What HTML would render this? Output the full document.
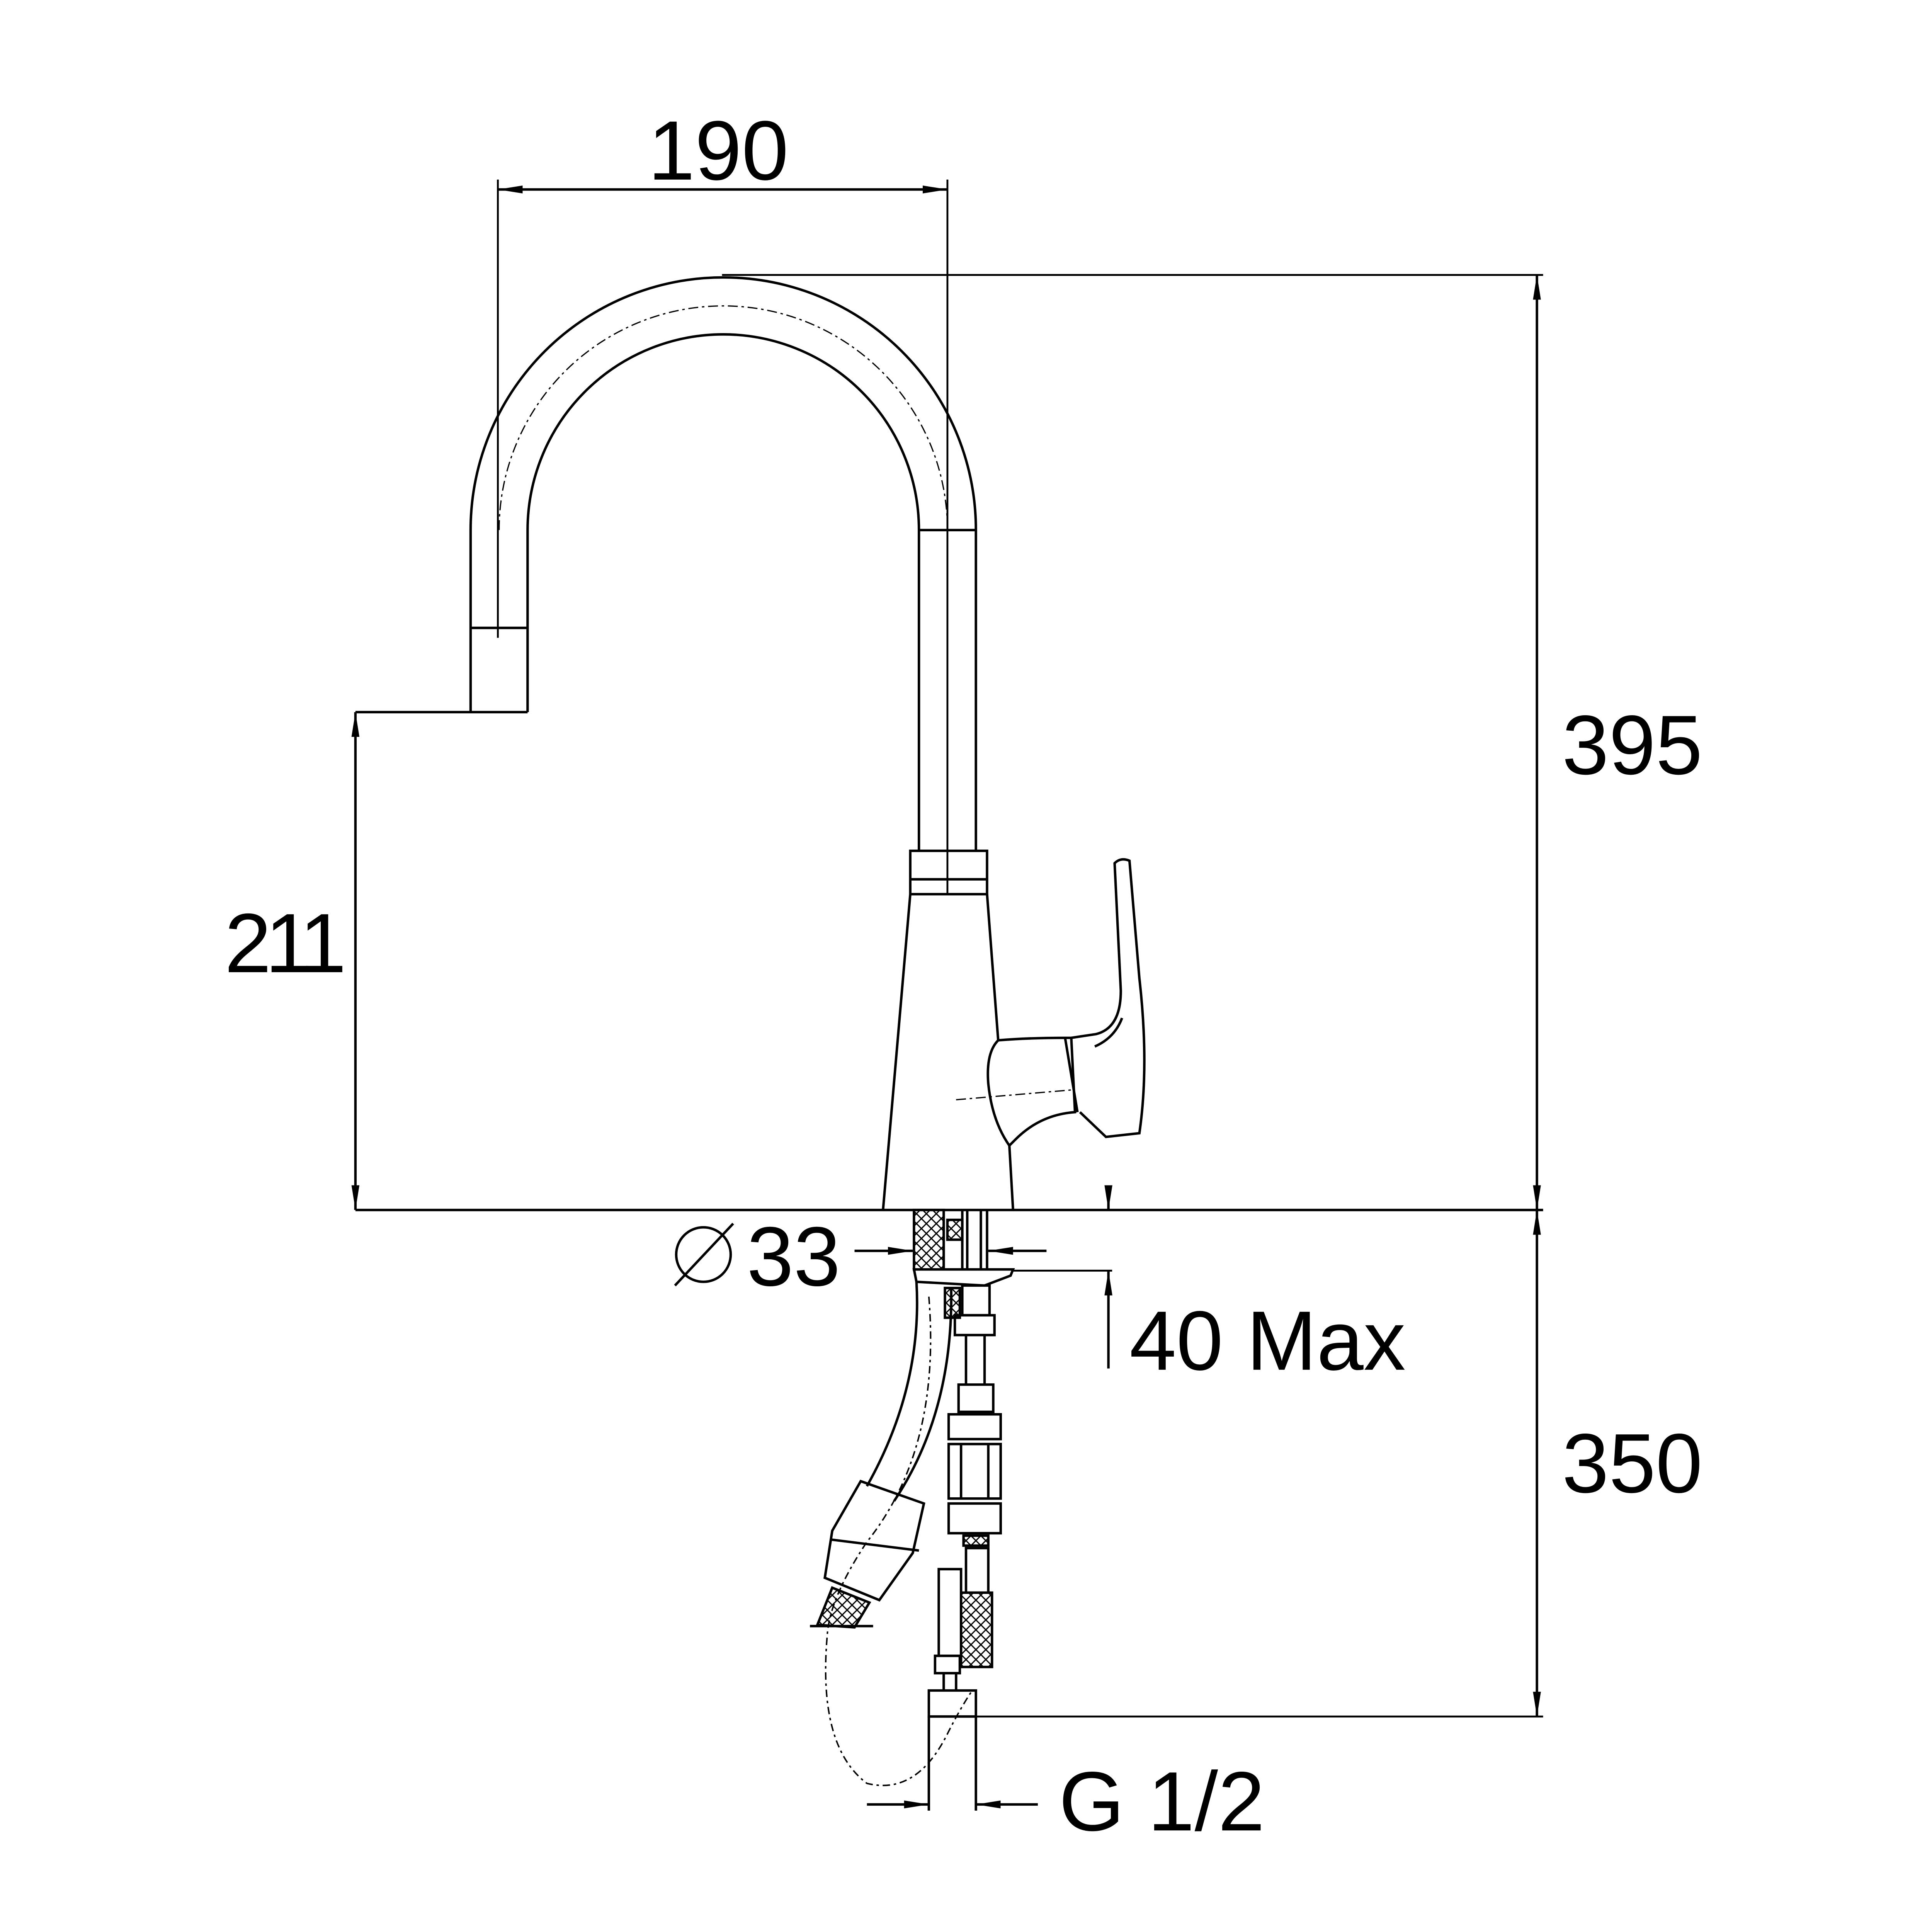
<!DOCTYPE html>
<html><head><meta charset="utf-8"><style>html,body{margin:0;padding:0;background:#fff;width:100%;height:100%;overflow:hidden}svg{display:block;width:100vw;height:100vh}</style></head><body>
<svg viewBox="0 0 1560 1560" preserveAspectRatio="xMidYMid meet" xmlns="http://www.w3.org/2000/svg">
<defs>
<marker id="a" viewBox="0 0 20 8" refX="20" refY="4" markerWidth="20" markerHeight="8" markerUnits="userSpaceOnUse" orient="auto-start-reverse"><path d="M0,0.8 L20,4 L0,7.2z" fill="#000"/></marker>
<pattern id="h" width="8" height="8" patternUnits="userSpaceOnUse"><path d="M0,0L8,8M8,0L0,8" stroke="#000" stroke-width="1"/></pattern>
</defs>
<g fill="none" stroke="#000" stroke-width="2">
<line x1="402" y1="153" x2="765" y2="153" marker-start="url(#a)" marker-end="url(#a)"/>
<line x1="402" y1="145" x2="402" y2="515" stroke-width="1.5"/>
<line x1="765" y1="145" x2="765" y2="722" stroke-width="1.5"/>
<path d="M380,575 L380,428 A204,204 0 0 1 788,428 L788,687"/>
<path d="M426,575 L426,428 A158,158 0 0 1 742,428 L742,687"/>
<path d="M403,428 A181,181 0 0 1 765,428" stroke-width="1" stroke-dasharray="8,3,2,3"/>
<line x1="380" y1="507" x2="426" y2="507"/>
<line x1="742" y1="428" x2="788" y2="428"/>
<line x1="287" y1="575" x2="426" y2="575"/>
<line x1="583" y1="222" x2="1246" y2="222" stroke-width="1.5"/>
<line x1="1241" y1="222" x2="1241" y2="977" marker-start="url(#a)" marker-end="url(#a)"/>
<line x1="287" y1="575" x2="287" y2="977" marker-start="url(#a)" marker-end="url(#a)"/>
<line x1="287" y1="977" x2="1246" y2="977"/>
<rect x="735" y="687" width="62" height="35"/>
<line x1="735" y1="710" x2="797" y2="710"/>
<path d="M735,722 L713,977 M797,722 L806,840 Q796,850 798,875 Q801,905 815,925 L818,977"/>
<path d="M806,840 Q830,838 860,838 L865,838 L868,898 Q840,900 820,920 L815,925"/>
<path d="M865,838 L885,835 Q905,830 905,800 L900,697 Q905,692 912,695 L920,790 Q928,860 920,915 L893,918 L872,898"/>
<path d="M884,845 Q900,838 906,822"/>
<line x1="860" y1="838" x2="870" y2="898"/>
<line x1="772" y1="888" x2="866" y2="880" stroke-width="1" stroke-dasharray="8,3,2,3"/>
<line x1="895" y1="962" x2="895" y2="977" marker-end="url(#a)"/>
<line x1="895" y1="1105" x2="895" y2="1026" marker-end="url(#a)"/>
<line x1="818" y1="1026" x2="898" y2="1026" stroke-width="1.5"/>
<line x1="690" y1="1010" x2="737" y2="1010" marker-end="url(#a)"/>
<line x1="845" y1="1010" x2="798" y2="1010" marker-end="url(#a)"/>
<circle cx="568" cy="1013" r="22"/>
<line x1="545" y1="1038" x2="592" y2="988"/>
<rect x="738" y="977" width="24" height="48" fill="url(#h)"/>
<rect x="765" y="985" width="12" height="16" fill="url(#h)"/>
<line x1="777" y1="977" x2="777" y2="1025"/><line x1="781" y1="977" x2="781" y2="1025"/>
<line x1="792" y1="977" x2="792" y2="1025"/><line x1="797" y1="977" x2="797" y2="1025"/>
<path d="M738,1025 L818,1025 L816,1030 L795,1038 L740,1035 Z"/>
<rect x="763" y="1040" width="12" height="24" fill="url(#h)"/>
<rect x="777" y="1038" width="22" height="24"/>
<rect x="771" y="1062" width="32" height="16"/>
<line x1="780" y1="1078" x2="780" y2="1118"/><line x1="795" y1="1078" x2="795" y2="1118"/>
<rect x="774" y="1118" width="28" height="22"/>
<rect x="766" y="1142" width="42" height="20"/>
<rect x="766" y="1166" width="42" height="44"/>
<line x1="776" y1="1166" x2="776" y2="1210"/><line x1="798" y1="1166" x2="798" y2="1210"/>
<rect x="766" y="1214" width="42" height="24"/>
<rect x="778" y="1240" width="20" height="8" fill="url(#h)"/>
<rect x="780" y="1250" width="18" height="36"/>
<rect x="776" y="1286" width="25" height="60" fill="url(#h)"/>
<rect x="758" y="1267" width="18" height="70"/>
<rect x="755" y="1337" width="20" height="14"/>
<rect x="750" y="1365" width="38" height="21"/>
<line x1="762" y1="1351" x2="762" y2="1365"/><line x1="772" y1="1351" x2="772" y2="1365"/>
<path d="M740,1035 Q745,1120 700,1200"/>
<path d="M768,1040 Q770,1140 722,1212"/>
<path d="M695,1196 L746,1214 L737,1254 L710,1292 L666,1274 L672,1236 Z"/>
<line x1="670" y1="1243" x2="742" y2="1252"/>
<path d="M672,1282 L702,1294 L690,1314 L660,1312 Z" fill="url(#h)"/>
<line x1="654" y1="1313" x2="705" y2="1313"/>
<path d="M750,1047 Q760,1170 700,1245 Q670,1290 668,1320 Q660,1410 700,1440 Q740,1450 765,1400 Q775,1380 785,1365" stroke-width="1.2" stroke-dasharray="6,3,2,3"/>
<line x1="1241" y1="977" x2="1241" y2="1386" marker-start="url(#a)" marker-end="url(#a)"/>
<line x1="785" y1="1386" x2="1246" y2="1386" stroke-width="1.5"/>
<line x1="750" y1="1386" x2="750" y2="1462"/><line x1="788" y1="1386" x2="788" y2="1462"/>
<line x1="700" y1="1457" x2="750" y2="1457" marker-end="url(#a)"/>
<line x1="838" y1="1457" x2="788" y2="1457" marker-end="url(#a)"/>
</g>
<g font-family="Liberation Sans, sans-serif" font-size="68" fill="#000">
<text x="580" y="145" text-anchor="middle">190</text>
<text x="1318" y="625" text-anchor="middle">395</text>
<text x="228" y="785" text-anchor="middle" letter-spacing="-5">211</text>
<text x="1318" y="1205" text-anchor="middle">350</text>
<text x="603" y="1038">33</text>
<text x="912" y="1106">40 Max</text>
<text x="855" y="1478">G 1/2</text>
</g>
</svg>
</body></html>
